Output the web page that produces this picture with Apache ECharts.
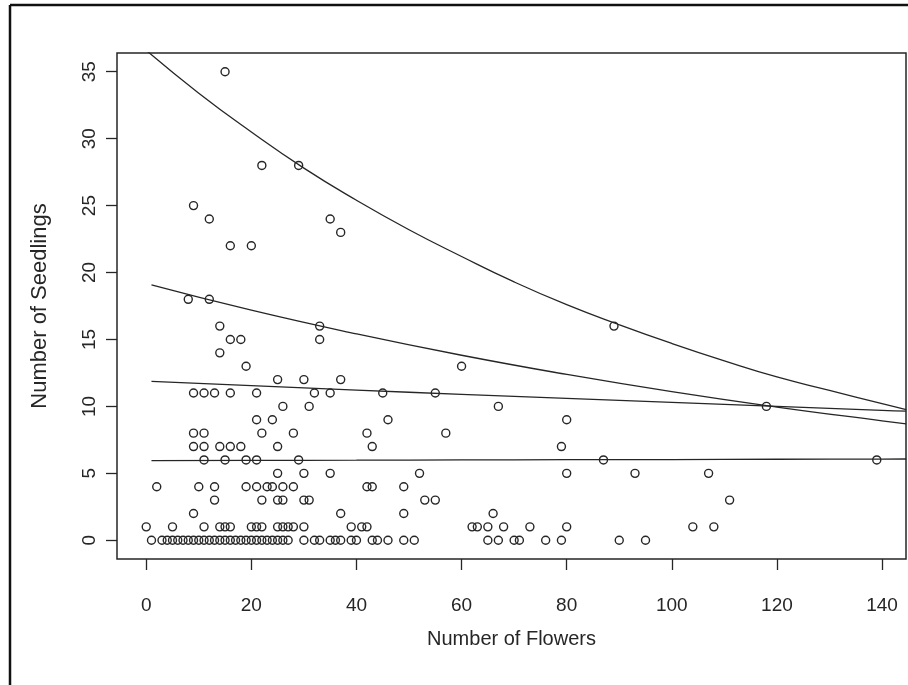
<!DOCTYPE html>
<html>
<head>
<meta charset="utf-8">
<title>Number of Seedlings vs Number of Flowers</title>
<script src="https://cdn.jsdelivr.net/npm/echarts@6/dist/echarts.min.js"></script>
<style>
  html, body { margin: 0; padding: 0; background: #ffffff; }
  #chart { width: 908px; height: 685px; }
</style>
</head>
<body>
<div id="chart"></div>
<script>
// Observed plants: flowers per plant and seedlings counted nearby (one entry per plant)
const flowers = [
  15,
  22, 29,
  9,
  12, 35,
  37,
  16, 20,
  8, 12,
  14, 33, 89,
  16, 18, 33,
  14,
  19, 60,
  25, 30, 37,
  9, 11, 13, 16, 21, 32, 35, 45, 55,
  26, 31, 67, 118,
  21, 24, 46, 80,
  9, 11, 22, 28, 42, 57,
  9, 11, 14, 16, 18, 25, 43, 79,
  11, 15, 19, 21, 29, 87, 139,
  25, 30, 35, 52, 80, 93, 107,
  2, 10, 13, 19, 21, 23, 24, 26, 28, 42, 43, 49,
  13, 22, 25, 26, 30, 31, 53, 55, 111,
  9, 37, 49, 66,
  0, 5, 11, 14, 15, 16, 20, 21, 22, 25, 26, 27, 28, 30, 39, 41, 42, 62, 63, 65, 68, 73, 80, 104, 108,
  1, 3, 4, 5, 6, 7, 8, 9, 10, 11, 12, 13, 14, 15, 16, 17, 18, 19, 20, 21, 22, 23, 24, 25, 26, 27,
  30, 32, 33, 35, 36, 37, 39, 40, 43, 44, 46, 49, 51, 65, 67, 70, 71, 76, 79, 90, 95
];
const seedlings = [
  35,
  28, 28,
  25,
  24, 24,
  23,
  22, 22,
  18, 18,
  16, 16, 16,
  15, 15, 15,
  14,
  13, 13,
  12, 12, 12,
  11, 11, 11, 11, 11, 11, 11, 11, 11,
  10, 10, 10, 10,
  9, 9, 9, 9,
  8, 8, 8, 8, 8, 8,
  7, 7, 7, 7, 7, 7, 7, 7,
  6, 6, 6, 6, 6, 6, 6,
  5, 5, 5, 5, 5, 5, 5,
  4, 4, 4, 4, 4, 4, 4, 4, 4, 4, 4, 4,
  3, 3, 3, 3, 3, 3, 3, 3, 3,
  2, 2, 2, 2,
  1, 1, 1, 1, 1, 1, 1, 1, 1, 1, 1, 1, 1, 1, 1, 1, 1, 1, 1, 1, 1, 1, 1, 1, 1,
  0, 0, 0, 0, 0, 0, 0, 0, 0, 0, 0, 0, 0, 0, 0, 0, 0, 0, 0, 0, 0, 0, 0, 0, 0, 0,
  0, 0, 0, 0, 0, 0, 0, 0, 0, 0, 0, 0, 0, 0, 0, 0, 0, 0, 0, 0, 0
];

// Fitted curves, sampled along the flower axis
const curveXTop = [0, 10, 20, 30, 40, 50, 60, 70, 80, 90, 100, 110, 120, 130, 140, 144.6];
const fitTop = [36.6, 33.4, 30.5, 27.8, 25.4, 23.2, 21.2, 19.3, 17.6, 16.1, 14.7, 13.4, 12.2, 11.2, 10.2, 9.76];
const curveX = [1, 20, 40, 60, 80, 100, 120, 140, 144.6];
const fitUpper = [19.08, 17.19, 15.42, 13.82, 12.39, 11.10, 9.95, 8.92, 8.70];
const fitMiddle = [11.87, 11.55, 11.22, 10.90, 10.60, 10.30, 10.00, 9.70, 9.65];
const fitLower = [5.95, 5.97, 5.98, 6.00, 6.02, 6.03, 6.05, 6.06, 6.07];

// Axis ticks
const xTicks = [0, 20, 40, 60, 80, 100, 120, 140];
const yTicks = [0, 5, 10, 15, 20, 25, 30, 35];

const ink = '#262626';
const font = '"Liberation Sans", Arial, Helvetica, sans-serif';

const points = flowers.map((f, i) => [f, seedlings[i]]);
const zip = (xs, ys) => xs.map((x, i) => [x, ys[i]]);

function curve(name, xs, ys) {
  return {
    name: name,
    type: 'line',
    data: zip(xs, ys),
    symbol: 'none',
    smooth: true,
    clip: true,
    z: 3,
    lineStyle: { color: ink, width: 1.3 },
    silent: true
  };
}

const chart = echarts.init(document.getElementById('chart'), null, { renderer: 'canvas' });
chart.setOption({
  animation: false,
  backgroundColor: '#ffffff',
  textStyle: { fontFamily: font, color: ink },
  graphic: [
    { type: 'line', shape: { x1: 10, y1: 5, x2: 10, y2: 685 }, style: { stroke: '#111', lineWidth: 2.5 } },
    { type: 'line', shape: { x1: 10, y1: 5, x2: 908, y2: 5 }, style: { stroke: '#111', lineWidth: 2.5 } }
  ],
  grid: {
    left: 117, top: 53, right: 2, bottom: 126,
    show: true, borderColor: ink, borderWidth: 1.5, backgroundColor: 'transparent'
  },
  xAxis: {
    type: 'value',
    min: -5.56, max: 144.56,
    name: 'Number of Flowers',
    nameLocation: 'middle',
    nameGap: 70,
    nameTextStyle: { fontSize: 20, color: ink, fontFamily: font },
    axisLine: { show: false, onZero: false },
    axisTick: { show: true, inside: false, length: 11, customValues: xTicks, lineStyle: { color: ink, width: 1.3 } },
    axisLabel: { customValues: xTicks, margin: 37, fontSize: 19, color: ink, fontFamily: font },
    splitLine: { show: false }
  },
  yAxis: {
    type: 'value',
    min: -1.4, max: 36.4,
    name: 'Number of Seedlings',
    nameLocation: 'middle',
    nameRotate: 90,
    nameGap: 66,
    nameTextStyle: { fontSize: 22, color: ink, fontFamily: font },
    axisLine: { show: false, onZero: false },
    axisTick: { show: true, inside: false, length: 11, customValues: yTicks, lineStyle: { color: ink, width: 1.3 } },
    axisLabel: { customValues: yTicks, rotate: 90, margin: 18, fontSize: 19, color: ink, fontFamily: font },
    splitLine: { show: false }
  },
  series: [
    {
      name: 'plants',
      type: 'scatter',
      data: points,
      symbol: 'circle',
      symbolSize: 8,
      z: 2,
      itemStyle: { color: 'rgba(255,255,255,0)', borderColor: ink, borderWidth: 1.4, opacity: 1 },
      silent: true
    },
    curve('fit 1', curveXTop, fitTop),
    curve('fit 2', curveX, fitUpper),
    curve('fit 3', curveX, fitMiddle),
    curve('fit 4', curveX, fitLower)
  ]
});
</script>
</body>
</html>
